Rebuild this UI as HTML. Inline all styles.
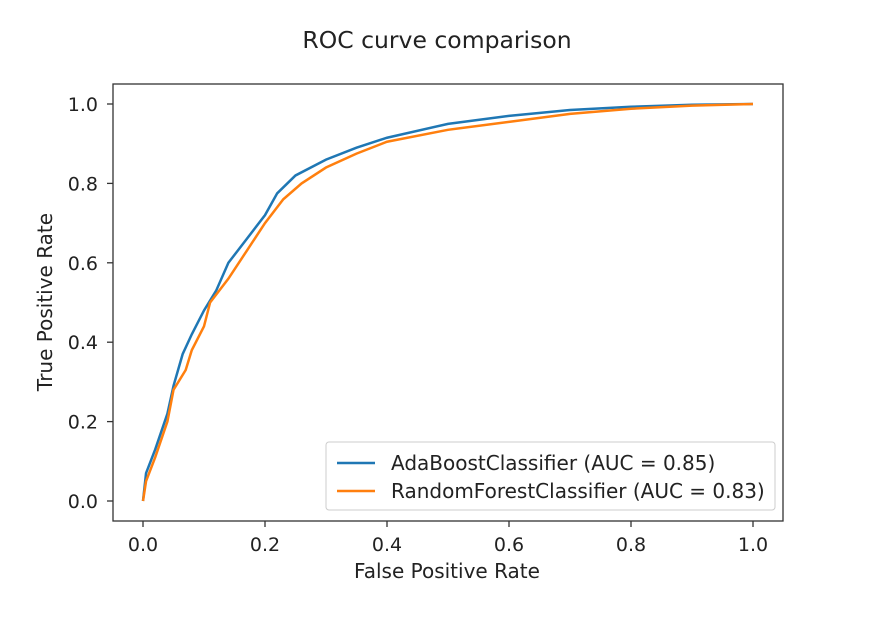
<!DOCTYPE html>
<html><head><meta charset="utf-8"><style>
body{margin:0;background:#fff;}
svg text{font-family:"DejaVu Sans","Liberation Sans",sans-serif;fill:#222;}
</style></head><body>
<svg width="882" height="620" xmlns="http://www.w3.org/2000/svg">
<text x="437" y="48" font-size="23.5" text-anchor="middle">ROC curve comparison</text>
<g id="axes"></g>
<g id="lines"></g>
<rect x="113" y="84" width="670" height="437" fill="none" stroke="#333" stroke-width="1.3"/>
<text x="447" y="578" font-size="20" text-anchor="middle">False Positive Rate</text>
<text transform="translate(52,302) rotate(-90)" font-size="20" text-anchor="middle">True Positive Rate</text>
<g>
<rect x="326" y="442" width="449" height="68" rx="3" fill="#fff" fill-opacity="0.85" stroke="#ccc"/>
<line x1="337" y1="463" x2="375" y2="463" stroke="#1f77b4" stroke-width="2.5"/>
<text x="391" y="470" font-size="20">AdaBoostClassifier (AUC = 0.85)</text>
<line x1="337" y1="491" x2="375" y2="491" stroke="#ff7f0e" stroke-width="2.5"/>
<text x="391" y="498" font-size="20">RandomForestClassifier (AUC = 0.83)</text>
</g>
</svg>
<script>
const xTicks=[0,0.2,0.4,0.6,0.8,1.0];
const yTicks=[0,0.2,0.4,0.6,0.8,1.0];
const adaFpr=[0,0.005,0.02,0.04,0.05,0.065,0.08,0.1,0.12,0.14,0.17,0.2,0.22,0.25,0.3,0.35,0.4,0.5,0.6,0.7,0.8,0.9,1];
const adaTpr=[0,0.07,0.13,0.22,0.29,0.37,0.42,0.48,0.53,0.6,0.66,0.72,0.775,0.82,0.86,0.89,0.915,0.95,0.97,0.985,0.993,0.998,1];
const rfFpr=[0,0.005,0.02,0.04,0.05,0.07,0.08,0.1,0.11,0.14,0.17,0.2,0.23,0.26,0.3,0.35,0.4,0.5,0.6,0.7,0.8,0.9,1];
const rfTpr=[0,0.05,0.11,0.2,0.28,0.33,0.38,0.44,0.5,0.56,0.63,0.7,0.76,0.8,0.84,0.875,0.905,0.935,0.955,0.975,0.988,0.996,1];
const NS="http://www.w3.org/2000/svg";
const sx=v=>143+v*610, sy=v=>501-v*397;
const ax=document.getElementById('axes');
xTicks.forEach(t=>{
 const l=document.createElementNS(NS,'line');
 l.setAttribute('x1',sx(t));l.setAttribute('x2',sx(t));l.setAttribute('y1',521);l.setAttribute('y2',527);l.setAttribute('stroke','#333');l.setAttribute('stroke-width','1.3');
 
 
 ax.appendChild(l);
 const tx=document.createElementNS(NS,'text');
 tx.setAttribute('x',sx(t));tx.setAttribute('y',551);tx.setAttribute('font-size','19');tx.setAttribute('text-anchor','middle');tx.textContent=t.toFixed(1);
 
 
 ax.appendChild(tx);
});
yTicks.forEach(t=>{
 const l=document.createElementNS(NS,'line');
 l.setAttribute('x1',107);l.setAttribute('x2',113);l.setAttribute('y1',sy(t));l.setAttribute('y2',sy(t));l.setAttribute('stroke','#333');l.setAttribute('stroke-width','1.3');
 
 
 ax.appendChild(l);
 const tx=document.createElementNS(NS,'text');
 tx.setAttribute('x',98);tx.setAttribute('y',sy(t)+7);tx.setAttribute('font-size','19');tx.setAttribute('text-anchor','end');tx.textContent=t.toFixed(1);
 
 
 ax.appendChild(tx);
});
const lg=document.getElementById('lines');
function draw(xs,ys,color,name){
 const p=document.createElementNS(NS,'polyline');
 p.setAttribute('points',xs.map((x,i)=>sx(x)+','+sy(ys[i])).join(' '));
 p.setAttribute('fill','none');p.setAttribute('stroke',color);p.setAttribute('stroke-width','2.5');
 
 
 lg.appendChild(p);
}
draw(adaFpr,adaTpr,'#1f77b4','adaboost-roc-line');
draw(rfFpr,rfTpr,'#ff7f0e','randomforest-roc-line');
</script>
</body></html>
